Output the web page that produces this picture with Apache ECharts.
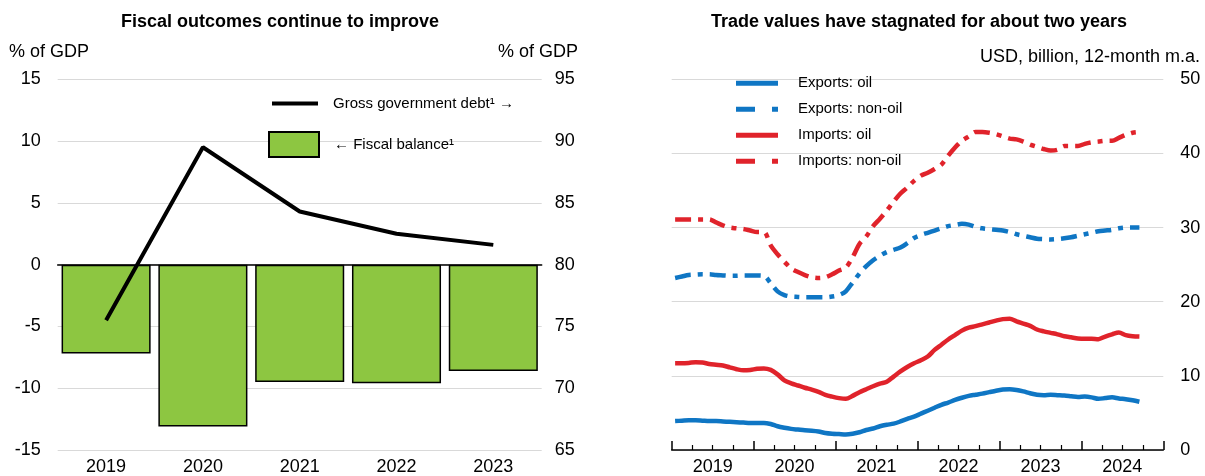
<!DOCTYPE html>
<html lang="en">
<head>
  <meta charset="UTF-8">
  <title>Fiscal outcomes and trade values</title>
  <script src="https://cdn.jsdelivr.net/npm/echarts@6/dist/echarts.min.js"></script>
  <style>
    html, body { margin: 0; padding: 0; background: #fff; }
  </style>
</head>
<body>
  <div id="chart" style="width: 1205px; height: 476px;"></div>

  <script>
    // left panel: annual fiscal data
    var years = ['2019', '2020', '2021', '2022', '2023'];
    var fiscalBalance = [-7.2, -13.1, -9.5, -9.6, -8.6];
    var grossDebt = [75.5, 89.5, 84.3, 82.5, 81.6];

    // right panel: monthly trade values, Jan 2019 - Sep 2024
    var tradeYears = ['2019', '2020', '2021', '2022', '2023', '2024'];
    var exportsOil = [
      3.9, 3.95, 4.0, 4.0, 3.95, 3.9, 3.9, 3.85, 3.8, 3.75, 3.7, 3.65,
      3.65, 3.65, 3.5, 3.2, 3.0, 2.85, 2.75, 2.65, 2.6, 2.5, 2.3, 2.2,
      2.15, 2.1, 2.2, 2.4, 2.7, 2.9, 3.2, 3.4, 3.55, 3.85, 4.2, 4.5,
      4.9, 5.3, 5.7, 6.1, 6.4, 6.75, 7.05, 7.3, 7.45, 7.6, 7.8, 8.0,
      8.15, 8.2, 8.1, 7.9, 7.65, 7.45, 7.4, 7.45, 7.4, 7.35, 7.25, 7.15,
      7.2, 7.1, 6.9, 7.0, 7.1, 6.95, 6.85, 6.7, 6.5
    ];
    var exportsNonOil = [
      23.2, 23.4, 23.6, 23.65, 23.7, 23.7, 23.6, 23.55, 23.5, 23.5, 23.55, 23.55,
      23.55, 23.5, 22.5, 21.4, 20.9, 20.7, 20.65, 20.6, 20.6, 20.6, 20.6, 20.7,
      20.9, 21.4, 22.6, 23.8, 24.8, 25.6, 26.2, 26.7, 27.0, 27.3, 27.9, 28.6,
      29.0, 29.3, 29.6, 29.9, 30.2, 30.35, 30.5, 30.4, 30.1, 29.9, 29.8, 29.7,
      29.6, 29.4, 29.1, 28.9, 28.7, 28.5, 28.45, 28.4, 28.45, 28.55, 28.7, 28.9,
      29.1, 29.3, 29.5, 29.6, 29.7, 29.9, 30.0, 30.0, 30.0
    ];
    var importsOil = [
      11.7, 11.7, 11.75, 11.85, 11.8, 11.6, 11.5, 11.4, 11.15, 10.9, 10.75, 10.8,
      10.95, 11.0, 10.8, 10.2, 9.4, 9.0, 8.7, 8.4, 8.15, 7.85, 7.45, 7.2,
      7.0, 6.9, 7.3, 7.8, 8.2, 8.6, 8.95, 9.2, 9.9, 10.6, 11.2, 11.7,
      12.1, 12.6, 13.5, 14.2, 14.9, 15.5, 16.1, 16.5, 16.7, 16.95, 17.2, 17.45,
      17.65, 17.7, 17.35, 17.05, 16.75, 16.25, 16.0, 15.8, 15.6, 15.35, 15.2, 15.05,
      15.0, 15.0, 14.95, 15.3, 15.6, 15.85, 15.5, 15.35, 15.3
    ];
    var importsNonOil = [
      31.1, 31.1, 31.1, 31.1, 31.1, 31.1, 30.7, 30.3, 30.0, 29.9, 29.8, 29.6,
      29.4, 29.4, 27.6, 26.4, 25.4, 24.5, 24.0, 23.6, 23.3, 23.2, 23.3, 23.7,
      24.2, 24.6, 26.0, 27.8, 28.8, 30.2, 31.2, 32.3, 33.5, 34.6, 35.4, 36.3,
      37.0, 37.4, 37.9, 38.5, 39.7, 40.8, 41.7, 42.3, 42.9, 42.9, 42.8, 42.6,
      42.3, 42.0, 41.9, 41.6, 41.2, 40.9, 40.6, 40.4, 40.5, 41.0, 41.0, 41.0,
      41.3, 41.5, 41.6, 41.7, 41.7, 42.1, 42.5, 42.8, 42.9
    ];

    var FONT = '"Liberation Sans", Arial, sans-serif';
    var BLUE = '#0f76c4';
    var RED = '#e0232b';
    var GREEN = '#8dc641';
    var GRID_GREY = '#d9d9d9';
    var DASH_DOT = [16, 7, 5, 7];
    var SOLID_ICON = 'path://M0,0 L42,0 L42,5 L0,5 Z';
    var DASH_ICON = 'path://M0,0 L19,0 L19,5 L0,5 Z M36,0 L42,0 L42,5 L36,5 Z';

    // month index -> x value at the middle of the month
    function monthly(values) {
      return values.map(function (v, i) { return [i + 0.5, v]; });
    }

    var myChart = echarts.init(document.getElementById('chart'));

    var axisText = { color: '#000', fontSize: 18, fontFamily: FONT };

    myChart.setOption({
      animation: false,
      textStyle: { fontFamily: FONT },
      graphic: [
        { type: 'text', x: 280, y: 22, style: { text: 'Fiscal outcomes continue to improve', font: 'bold 18px ' + FONT, fill: '#000', textAlign: 'center', textVerticalAlign: 'middle' } },
        { type: 'text', x: 9, y: 52, style: { text: '% of GDP', font: '18px ' + FONT, fill: '#000', textAlign: 'left', textVerticalAlign: 'middle' } },
        { type: 'text', x: 578, y: 52, style: { text: '% of GDP', font: '18px ' + FONT, fill: '#000', textAlign: 'right', textVerticalAlign: 'middle' } },
        { type: 'text', x: 919, y: 22, style: { text: 'Trade values have stagnated for about two years', font: 'bold 18px ' + FONT, fill: '#000', textAlign: 'center', textVerticalAlign: 'middle' } },
        { type: 'text', x: 1200, y: 57, style: { text: 'USD, billion, 12-month m.a.', font: '18px ' + FONT, fill: '#000', textAlign: 'right', textVerticalAlign: 'middle' } }
      ],
      legend: [
        {
          left: 267, top: 91,
          itemWidth: 46, itemHeight: 24,
          icon: 'path://M0,10 L46,10 L46,14 L0,14 Z',
          data: ['Gross government debt¹ →'],
          textStyle: { fontSize: 15, color: '#000', padding: [0, 0, 0, 10] }
        },
        {
          left: 263, top: 126,
          itemWidth: 50, itemHeight: 25,
          data: [{ name: 'Fiscal balance', icon: 'rect' }],
          formatter: function () { return '← Fiscal balance¹'; },
          textStyle: { fontSize: 15, color: '#000', padding: [0, 0, 0, 10] }
        },
        {
          left: 731, top: 65.3, orient: 'vertical',
          itemWidth: 42, itemHeight: 22, itemGap: 0,
          data: [
            { name: 'Exports: oil', icon: SOLID_ICON },
            { name: 'Exports: non-oil', icon: DASH_ICON },
            { name: 'Imports: oil', icon: SOLID_ICON },
            { name: 'Imports: non-oil', icon: DASH_ICON }
          ],
          textStyle: { fontSize: 15, lineHeight: 26, color: '#000', padding: [0, 0, 0, 15] }
        }
      ],
      grid: [
        { left: 57.7, top: 79.3, width: 484, height: 374 },
        { left: 671.7, top: 79.3, width: 491.6, height: 374 }
      ],
      xAxis: [
        {
          type: 'category', gridIndex: 0, data: years, position: 'bottom',
          axisLine: { lineStyle: { color: '#000', width: 1.5 } },
          axisTick: { inside: true, length: 9, lineStyle: { color: '#000', width: 1.5 } },
          axisLabel: Object.assign({ margin: 8 }, axisText)
        },
        {
          type: 'value', gridIndex: 1, min: 0, max: 72, interval: 12, position: 'bottom',
          axisLine: { lineStyle: { color: '#000', width: 1.5 } },
          axisTick: { inside: true, length: 9, lineStyle: { color: '#000', width: 1.5 } },
          minorTick: { show: true, splitNumber: 4, length: 5, lineStyle: { color: '#000', width: 1.2 } },
          axisLabel: { show: false },
          splitLine: { show: false }
        },
        {
          // labels only, centred on each year
          type: 'value', gridIndex: 1, min: 0, max: 72, interval: 6, position: 'bottom',
          axisLine: { show: false }, axisTick: { show: false }, splitLine: { show: false },
          axisLabel: Object.assign({
            margin: 8,
            formatter: function (v) {
              return v % 12 === 6 ? tradeYears[(v - 6) / 12] : '';
            }
          }, axisText)
        }
      ],
      yAxis: [
        {
          type: 'value', gridIndex: 0, position: 'left', min: -15, max: 15, interval: 5,
          axisLine: { show: false }, axisTick: { show: false },
          axisLabel: Object.assign({ margin: 17 }, axisText),
          splitLine: { lineStyle: { color: GRID_GREY, width: 1 } }
        },
        {
          type: 'value', gridIndex: 0, position: 'right', min: 65, max: 95, interval: 5,
          axisLine: { show: false }, axisTick: { show: false },
          axisLabel: Object.assign({ margin: 13 }, axisText),
          splitLine: { show: false }
        },
        {
          type: 'value', gridIndex: 1, position: 'right', min: 0, max: 50, interval: 10,
          axisLine: { show: false }, axisTick: { show: false },
          axisLabel: Object.assign({ margin: 17 }, axisText),
          splitLine: { lineStyle: { color: GRID_GREY, width: 1 } }
        }
      ],
      series: [
        {
          name: 'Fiscal balance', type: 'bar', xAxisIndex: 0, yAxisIndex: 0,
          data: fiscalBalance, barCategoryGap: '8%',
          itemStyle: { color: GREEN, borderColor: '#000', borderWidth: 1.5 }
        },
        {
          name: 'Gross government debt¹ →', type: 'line', xAxisIndex: 0, yAxisIndex: 1,
          data: grossDebt, symbol: 'none',
          itemStyle: { color: '#000' },
          lineStyle: { color: '#000', width: 4 }
        },
        {
          name: 'Exports: oil', type: 'line', xAxisIndex: 1, yAxisIndex: 2,
          data: monthly(exportsOil), symbol: 'none', smooth: 0.3,
          itemStyle: { color: BLUE }, lineStyle: { color: BLUE, width: 4.5 }
        },
        {
          name: 'Exports: non-oil', type: 'line', xAxisIndex: 1, yAxisIndex: 2,
          data: monthly(exportsNonOil), symbol: 'none', smooth: 0.3,
          itemStyle: { color: BLUE }, lineStyle: { color: BLUE, width: 4.5, type: DASH_DOT }
        },
        {
          name: 'Imports: oil', type: 'line', xAxisIndex: 1, yAxisIndex: 2,
          data: monthly(importsOil), symbol: 'none', smooth: 0.3,
          itemStyle: { color: RED }, lineStyle: { color: RED, width: 4.5 }
        },
        {
          name: 'Imports: non-oil', type: 'line', xAxisIndex: 1, yAxisIndex: 2,
          data: monthly(importsNonOil), symbol: 'none', smooth: 0.3,
          itemStyle: { color: RED }, lineStyle: { color: RED, width: 4.5, type: DASH_DOT }
        }
      ]
    });
  </script>
</body>
</html>
